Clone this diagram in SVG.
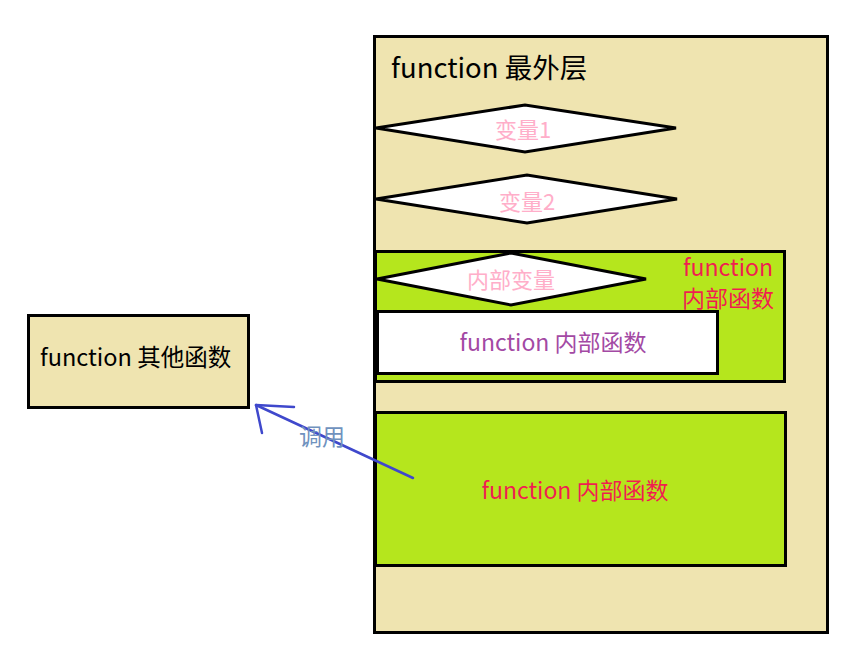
<svg xmlns="http://www.w3.org/2000/svg" width="863" height="664" viewBox="0 0 863 664">
<style>
text{font-family:"Microsoft YaHei","Noto Sans CJK SC","Noto Sans",sans-serif;dominant-baseline:central}
.box{stroke:#000;stroke-width:3}
.beige{fill:#efe4b0}
.green{fill:#b5e61d}
.white{fill:#fff}
.dia{fill:#fff;stroke:#000;stroke-width:3;stroke-linejoin:miter}
.pink{fill:#ffaec9;font-size:22px}
.red{fill:#f01e50;font-size:23px}
.purple{fill:#a349a4;font-size:23px}
.conn{fill:none;stroke:#3f48cc;stroke-width:2.5;stroke-linecap:round;stroke-linejoin:round}
</style>
<rect width="863" height="664" fill="#fff"/>
<g id="outer">
<rect class="box beige" x="374.5" y="36.5" width="453" height="596"/>
<text x="391" y="66" font-size="27.5" fill="#000">function 最外层</text>
</g>
<g id="var1">
<polygon class="dia" points="376,128 525,105 676,128 525,152"/>
<text class="pink" x="523" y="128" text-anchor="middle">变量1</text>
</g>
<g id="var2">
<polygon class="dia" points="376,199 527,175 677,199 527,223"/>
<text class="pink" x="527" y="200" text-anchor="middle">变量2</text>
</g>
<g id="inner1">
<rect class="box green" x="375.5" y="251.5" width="409" height="130"/>
<text class="red" x="728" y="266" text-anchor="middle" font-size="21.5">function</text>
<text class="red" x="728" y="297" text-anchor="middle" font-size="21.5">内部函数</text>
</g>
<g id="innerVar">
<polygon class="dia" points="377,279 511,253 646,279 511,305"/>
<text class="pink" x="511" y="278" text-anchor="middle" font-size="23">内部变量</text>
</g>
<g id="innerFunc">
<rect class="box white" x="377.5" y="311.5" width="340" height="62"/>
<text class="purple" x="553" y="341" text-anchor="middle">function 内部函数</text>
</g>
<g id="inner2">
<rect class="box green" x="375.5" y="412.5" width="410" height="153"/>
<text class="red" x="575" y="489" text-anchor="middle">function 内部函数</text>
</g>
<g id="other">
<rect class="box beige" x="28.5" y="315.5" width="220" height="92"/>
<text x="40" y="356" font-size="23.5" fill="#000">function 其他函数</text>
</g>
<g id="connectors">
<polyline class="conn" points="413,478 256,405"/>
<polyline class="conn" points="294,407 256,405 262,433"/>
<text x="322" y="435" font-size="23" fill="#7092be" text-anchor="middle">调用</text>
</g>
</svg>
